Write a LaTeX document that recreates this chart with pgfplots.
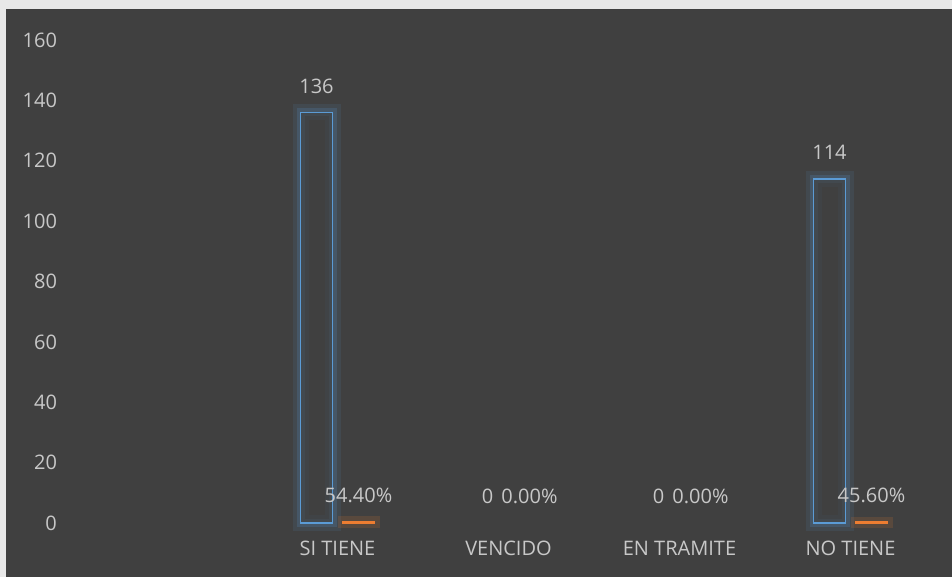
\documentclass[border=0pt]{standalone}
\usepackage{fontspec}
\setmainfont{Open Sans}
\usepackage{pgfplots}
\pgfplotsset{compat=1.18}
\definecolor{bg}{RGB}{64,64,64}
\definecolor{frame}{RGB}{232,232,232}
\definecolor{txt}{RGB}{200,200,200}
\definecolor{barblue}{RGB}{91,155,213}
\definecolor{barorange}{RGB}{237,125,49}

\begin{document}
\begin{tikzpicture}[x=1pt,y=1pt]
\fill[frame] (-40.5,-27) rectangle (435.5,261.5);
\fill[bg] (-37.5,-27) rectangle (435.5,257);
\begin{axis}[
  at={(0,0)}, anchor=south west,
  scale only axis, width=427.5pt, height=241.5pt,
  xmin=-0.5, xmax=4.5, ymin=0, ymax=160,
  ytick={0,20,...,160},
  xtick={1,2,3,4},
  xticklabels={SI TIENE, VENCIDO, EN TRAMITE, NO TIENE},
  axis line style={draw=none},
  major tick length=0pt,
  tick label style={font=\fontsize{10}{12}\selectfont, text=txt},
  yticklabel style={anchor=east, xshift=-8.5pt},
  xticklabel style={anchor=center, yshift=-12.5pt},
  /pgf/number format/assume math mode=true,
  clip=false,
  every node near coord/.append style={font=\fontsize{10}{12}\selectfont, text=txt, yshift=6pt},
]
% blue series: glow, then outline
\addplot[ybar, bar width=16pt, bar shift=-10.5pt, draw=barblue, draw opacity=0.1, line width=8pt, fill=none]
  coordinates {(1,136) (4,114)};
\addplot[ybar, bar width=16pt, bar shift=-10.5pt, draw=barblue, draw opacity=0.18, line width=4pt, fill=none]
  coordinates {(1,136) (4,114)};
\addplot[ybar, bar width=16pt, bar shift=-10.5pt, draw=barblue, line width=0.7pt, fill=bg, fill opacity=0.6]
  coordinates {(1,136) (4,114)};
% blue labels
\addplot[ybar, bar width=16pt, bar shift=-10.5pt, draw=none, fill=none,
  nodes near coords, every node near coord/.append style={xshift=-10.5pt}]
  coordinates {(1,136) (2,0) (3,0) (4,114)};
% orange series
\addplot[ybar, bar width=16pt, bar shift=10.5pt, draw=barorange, draw opacity=0.15, line width=5pt, fill=none]
  coordinates {(1,0.544) (4,0.456)};
\addplot[ybar, bar width=16pt, bar shift=10.5pt, draw=barorange, line width=0.7pt, fill=barorange]
  coordinates {(1,0.544) (4,0.456)};
% orange labels
\addplot[ybar, bar width=16pt, bar shift=10.5pt, draw=none, fill=none,
  point meta=explicit symbolic, nodes near coords,
  every node near coord/.append style={xshift=10.5pt}]
  coordinates {(1,0.544) [54.40\%] (2,0) [0.00\%] (3,0) [0.00\%] (4,0.456) [45.60\%]};
\end{axis}
\pgfresetboundingbox
\useasboundingbox (-40.5,-27) rectangle (435.5,261.5);
\end{tikzpicture}
\end{document}
